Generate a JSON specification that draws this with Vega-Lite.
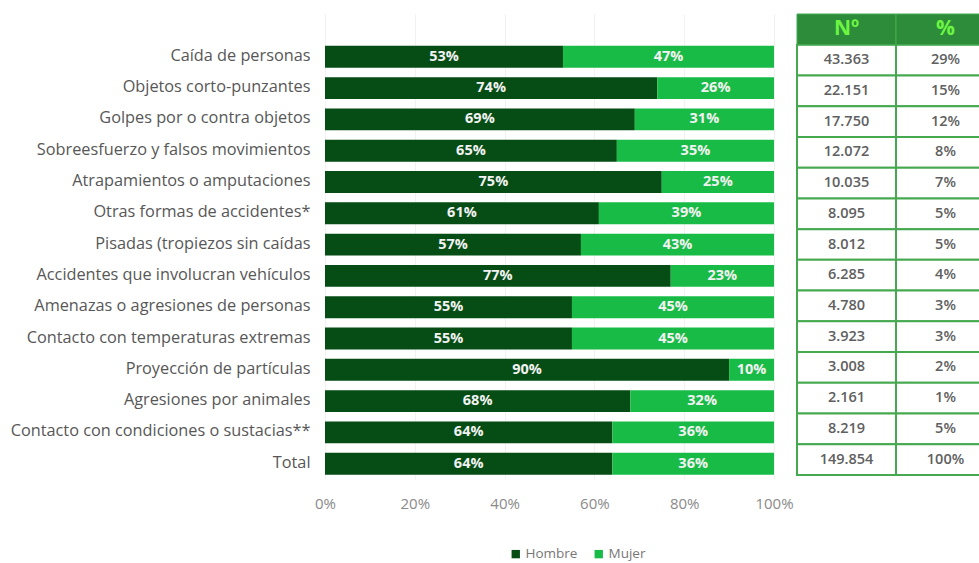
{
  "$schema": "https://vega.github.io/schema/vega-lite/v6.json",
  "padding": {"left": 0, "top": 13, "right": 0, "bottom": 0},
  "background": "white",
  "bounds": "flush",
  "spacing": 23,
  "config": {
    "view": {"stroke": null},
    "font": "Open Sans",
    "locale": {"number": {"decimal": ",", "thousands": ".", "grouping": [3], "currency": ["$", ""]}}
  },
  "datasets": {
    "barras": [
      {"cat": "Caída de personas", "sexo": "Hombre", "pct": 0.53},
      {"cat": "Caída de personas", "sexo": "Mujer", "pct": 0.47},
      {"cat": "Objetos corto-punzantes", "sexo": "Hombre", "pct": 0.74},
      {"cat": "Objetos corto-punzantes", "sexo": "Mujer", "pct": 0.26},
      {"cat": "Golpes por o contra objetos", "sexo": "Hombre", "pct": 0.69},
      {"cat": "Golpes por o contra objetos", "sexo": "Mujer", "pct": 0.31},
      {"cat": "Sobreesfuerzo y falsos movimientos", "sexo": "Hombre", "pct": 0.65},
      {"cat": "Sobreesfuerzo y falsos movimientos", "sexo": "Mujer", "pct": 0.35},
      {"cat": "Atrapamientos o amputaciones", "sexo": "Hombre", "pct": 0.75},
      {"cat": "Atrapamientos o amputaciones", "sexo": "Mujer", "pct": 0.25},
      {"cat": "Otras formas de accidentes*", "sexo": "Hombre", "pct": 0.61},
      {"cat": "Otras formas de accidentes*", "sexo": "Mujer", "pct": 0.39},
      {"cat": "Pisadas (tropiezos sin caídas", "sexo": "Hombre", "pct": 0.57},
      {"cat": "Pisadas (tropiezos sin caídas", "sexo": "Mujer", "pct": 0.43},
      {"cat": "Accidentes que involucran vehículos", "sexo": "Hombre", "pct": 0.77},
      {"cat": "Accidentes que involucran vehículos", "sexo": "Mujer", "pct": 0.23},
      {"cat": "Amenazas o agresiones de personas", "sexo": "Hombre", "pct": 0.55},
      {"cat": "Amenazas o agresiones de personas", "sexo": "Mujer", "pct": 0.45},
      {"cat": "Contacto con temperaturas extremas", "sexo": "Hombre", "pct": 0.55},
      {"cat": "Contacto con temperaturas extremas", "sexo": "Mujer", "pct": 0.45},
      {"cat": "Proyección de partículas", "sexo": "Hombre", "pct": 0.90},
      {"cat": "Proyección de partículas", "sexo": "Mujer", "pct": 0.10},
      {"cat": "Agresiones por animales", "sexo": "Hombre", "pct": 0.68},
      {"cat": "Agresiones por animales", "sexo": "Mujer", "pct": 0.32},
      {"cat": "Contacto con condiciones o sustacias**", "sexo": "Hombre", "pct": 0.64},
      {"cat": "Contacto con condiciones o sustacias**", "sexo": "Mujer", "pct": 0.36},
      {"cat": "Total", "sexo": "Hombre", "pct": 0.64},
      {"cat": "Total", "sexo": "Mujer", "pct": 0.36}
    ],
    "tabla": [
      {"cat": "Caída de personas", "n": 43363, "p": 0.29},
      {"cat": "Objetos corto-punzantes", "n": 22151, "p": 0.15},
      {"cat": "Golpes por o contra objetos", "n": 17750, "p": 0.12},
      {"cat": "Sobreesfuerzo y falsos movimientos", "n": 12072, "p": 0.08},
      {"cat": "Atrapamientos o amputaciones", "n": 10035, "p": 0.07},
      {"cat": "Otras formas de accidentes*", "n": 8095, "p": 0.05},
      {"cat": "Pisadas (tropiezos sin caídas", "n": 8012, "p": 0.05},
      {"cat": "Accidentes que involucran vehículos", "n": 6285, "p": 0.04},
      {"cat": "Amenazas o agresiones de personas", "n": 4780, "p": 0.03},
      {"cat": "Contacto con temperaturas extremas", "n": 3923, "p": 0.03},
      {"cat": "Proyección de partículas", "n": 3008, "p": 0.02},
      {"cat": "Agresiones por animales", "n": 2161, "p": 0.01},
      {"cat": "Contacto con condiciones o sustacias**", "n": 8219, "p": 0.05},
      {"cat": "Total", "n": 149854, "p": 1.0}
    ],
    "cabecera": [
      {"cat": "_h", "col": "n", "label": "Nº"},
      {"cat": "_h", "col": "p", "label": "%"}
    ]
  },
  "hconcat": [
    {
      "width": 449,
      "height": 465,
      "data": {"name": "barras"},
      "transform": [
        {"stack": "pct", "groupby": ["cat"], "sort": [{"field": "sexo", "order": "ascending"}], "as": ["p0", "p1"]},
        {"calculate": "(datum.p0 + datum.p1) / 2", "as": "medio"}
      ],
      "encoding": {
        "y": {
          "field": "cat",
          "type": "nominal",
          "sort": ["Caída de personas", "Objetos corto-punzantes", "Golpes por o contra objetos", "Sobreesfuerzo y falsos movimientos", "Atrapamientos o amputaciones", "Otras formas de accidentes*", "Pisadas (tropiezos sin caídas", "Accidentes que involucran vehículos", "Amenazas o agresiones de personas", "Contacto con temperaturas extremas", "Proyección de partículas", "Agresiones por animales", "Contacto con condiciones o sustacias**", "Total"],
          "scale": {"paddingInner": 0.3, "paddingOuter": 0.578, "align": 0.88},
          "axis": {"title": null, "domain": false, "ticks": false, "grid": false, "labelPadding": 15, "labelFontSize": 16.3, "labelColor": "#575757", "minExtent": 325, "maxExtent": 325, "labelLimit": 340, "labelOffset": -1}
        }
      },
      "layer": [
        {
          "mark": {"type": "bar"},
          "encoding": {
            "x": {
              "field": "p0",
              "type": "quantitative",
              "scale": {"domain": [0, 1], "nice": false},
              "axis": {"title": null, "format": ".0%", "values": [0, 0.2, 0.4, 0.6, 0.8, 1], "domain": false, "ticks": false, "labelPadding": 17, "labelFontSize": 15, "labelColor": "#8a8a8a", "gridColor": "#f1f1f1", "labelFlush": false}
            },
            "x2": {"field": "p1"},
            "color": {
              "field": "sexo",
              "type": "nominal",
              "scale": {"domain": ["Hombre", "Mujer"], "range": ["#054d14", "#19bb47"]},
              "legend": {"title": null, "orient": "none", "legendX": 184, "legendY": 533, "direction": "horizontal", "symbolType": "square", "symbolSize": 70, "symbolStrokeWidth": 0, "labelFontSize": 13.5, "labelColor": "#777777", "labelOffset": 3, "columnPadding": 14}
            }
          }
        },
        {
          "mark": {"type": "text", "color": "#f2f2f2", "fontSize": 14.5, "fontWeight": "bold"},
          "encoding": {
            "x": {"field": "medio", "type": "quantitative"},
            "text": {"field": "pct", "type": "quantitative", "format": ".0%"}
          }
        }
      ]
    },
    {
      "width": 198,
      "height": 461,
      "encoding": {
        "y": {
          "field": "cat",
          "type": "nominal",
          "scale": {"domain": ["_h", "Caída de personas", "Objetos corto-punzantes", "Golpes por o contra objetos", "Sobreesfuerzo y falsos movimientos", "Atrapamientos o amputaciones", "Otras formas de accidentes*", "Pisadas (tropiezos sin caídas", "Accidentes que involucran vehículos", "Amenazas o agresiones de personas", "Contacto con temperaturas extremas", "Proyección de partículas", "Agresiones por animales", "Contacto con condiciones o sustacias**", "Total"], "paddingInner": 0, "paddingOuter": 0},
          "axis": null
        }
      },
      "layer": [
        {
          "data": {"name": "tabla"},
          "mark": {"type": "rect", "fill": "white", "stroke": "#46a950", "strokeWidth": 2},
          "encoding": {
            "x": {"datum": "n", "type": "nominal", "scale": {"domain": ["n", "p"], "paddingInner": 0, "paddingOuter": 0}, "axis": null}
          }
        },
        {
          "data": {"name": "tabla"},
          "mark": {"type": "rect", "fill": "white", "stroke": "#46a950", "strokeWidth": 2},
          "encoding": {
            "x": {"datum": "p", "type": "nominal"}
          }
        },
        {
          "data": {"name": "cabecera"},
          "mark": {"type": "rect", "fill": "#2c8c3a", "stroke": "#46a950", "strokeWidth": 1},
          "encoding": {
            "x": {"field": "col", "type": "nominal"}
          }
        },
        {
          "data": {"name": "cabecera"},
          "mark": {"type": "text", "color": "#6cf542", "fontSize": 21, "fontWeight": "bold"},
          "encoding": {
            "x": {"field": "col", "type": "nominal"},
            "text": {"field": "label"}
          }
        },
        {
          "data": {"name": "tabla"},
          "mark": {"type": "text", "color": "#606060", "fontSize": 14.5, "fontWeight": 600},
          "encoding": {
            "x": {"datum": "n", "type": "nominal"},
            "text": {"field": "n", "type": "quantitative", "format": ","}
          }
        },
        {
          "data": {"name": "tabla"},
          "mark": {"type": "text", "color": "#606060", "fontSize": 14.5, "fontWeight": 600},
          "encoding": {
            "x": {"datum": "p", "type": "nominal"},
            "text": {"field": "p", "type": "quantitative", "format": ".0%"}
          }
        }
      ]
    }
  ]
}
